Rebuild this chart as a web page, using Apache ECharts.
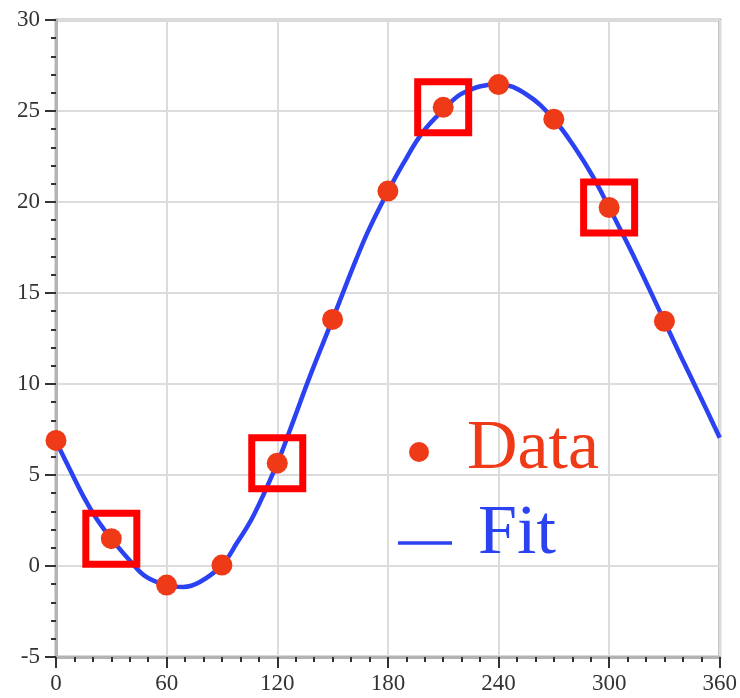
<!DOCTYPE html>
<html>
<head>
<meta charset="utf-8">
<script src="https://cdn.jsdelivr.net/npm/echarts@6/dist/echarts.min.js"></script>
<style>
html,body{margin:0;padding:0;background:#fff;}
#chart{width:740px;height:698px;}
</style>
</head>
<body>
<div id="chart"></div>
<script>
// Measured data points
const dataX = [0, 30, 60, 90, 120, 150, 180, 210, 240, 270, 300, 330];
const dataY = [6.9, 1.5, -1.05, 0.05, 5.65, 13.55, 20.6, 25.2, 26.45, 24.55, 19.7, 13.45];
// Points highlighted with red boxes
const boxedIndex = [1, 4, 7, 10];
// Fit curve
const fitX = [0, 6, 15, 22, 30, 40, 49, 60, 69, 78, 90, 98, 107, 120, 127, 138, 150, 163, 170, 180, 188, 199, 210, 221, 240, 255, 270, 282, 291, 300, 311, 320, 330, 339, 349, 360];
const fitY = [6.85, 5.62, 3.8, 2.6, 1.5, 0.3, -0.6, -1.05, -1.15, -0.88, 0.05, 1.25, 2.75, 5.65, 7.5, 10.5, 13.55, 16.9, 18.55, 20.57, 22.05, 23.85, 25.05, 26.0, 26.47, 25.92, 24.54, 22.9, 21.43, 19.7, 17.5, 15.6, 13.45, 11.5, 9.4, 7.05];
// Axis ticks
const xTicks = {min: 0, max: 360, interval: 60};
const yTicks = {min: -5, max: 30, interval: 5};
const legendNames = ['Data', 'Fit'];

const RED = '#ee3a17';
const BLUE = '#2b42f2';
const FONT = 'Liberation Serif';

const chart = echarts.init(document.getElementById('chart'), null, {renderer: 'canvas'});

const dataPts = dataX.map((x, i) => [x, dataY[i]]);
const boxedPts = boxedIndex.map(i => [dataX[i], dataY[i]]);
const fitPts = fitX.map((x, i) => [x, fitY[i]]);

const axisCommon = {
  type: 'value',
  axisLine: {show: true, onZero: false, lineStyle: {color: '#b4b4b4', width: 3}},
  axisTick: {show: true, length: 11, lineStyle: {color: '#333', width: 2}},
  minorTick: {show: true, splitNumber: 5, length: 5, lineStyle: {color: '#333', width: 2}},
  splitLine: {show: true, lineStyle: {color: '#dcdcdc', width: 2}},
  axisLabel: {fontFamily: FONT, fontSize: 23, color: '#333', margin: 15}
};

chart.setOption({
  animation: false,
  backgroundColor: '#fff',
  grid: {left: 56, top: 20, right: 19, bottom: 41, show: true, borderColor: '#b4b4b4', borderWidth: 3, backgroundColor: 'transparent'},
  xAxis: Object.assign({}, axisCommon, {
    min: xTicks.min, max: xTicks.max, interval: xTicks.interval,
    minorTick: Object.assign({}, axisCommon.minorTick, {splitNumber: 6})
  }),
  yAxis: Object.assign({}, axisCommon, {
    min: yTicks.min, max: yTicks.max, interval: yTicks.interval,
    axisLabel: Object.assign({}, axisCommon.axisLabel, {margin: 16})
  }),
  series: [
    {
      name: legendNames[1], type: 'line', data: fitPts, smooth: 0.4,
      showSymbol: false, symbol: 'none',
      lineStyle: {color: BLUE, width: 4.5}, z: 2
    },
    {
      name: legendNames[0], type: 'scatter', data: dataPts,
      symbol: 'circle', symbolSize: 21,
      itemStyle: {color: RED, opacity: 1}, z: 3
    },
    {
      name: 'boxes', type: 'scatter', data: boxedPts,
      symbol: 'rect', symbolSize: 51, silent: true,
      itemStyle: {color: 'rgba(0,0,0,0)', borderColor: '#ff0000', borderWidth: 7, opacity: 1}, z: 4
    }
  ],
  graphic: [
    {type: 'circle', shape: {cx: 419, cy: 452, r: 10}, style: {fill: RED}, z: 10},
    {type: 'text', x: 467, y: 450, style: {text: legendNames[0], fill: RED, font: '70px "Liberation Serif"', textAlign: 'left', textVerticalAlign: 'middle'}, z: 10},
    {type: 'line', shape: {x1: 398, y1: 543, x2: 452, y2: 543}, style: {stroke: BLUE, lineWidth: 3.5}, z: 10},
    {type: 'text', x: 478, y: 535, style: {text: legendNames[1], fill: BLUE, font: '70px "Liberation Serif"', textAlign: 'left', textVerticalAlign: 'middle'}, z: 10}
  ]
});
</script>
</body>
</html>
